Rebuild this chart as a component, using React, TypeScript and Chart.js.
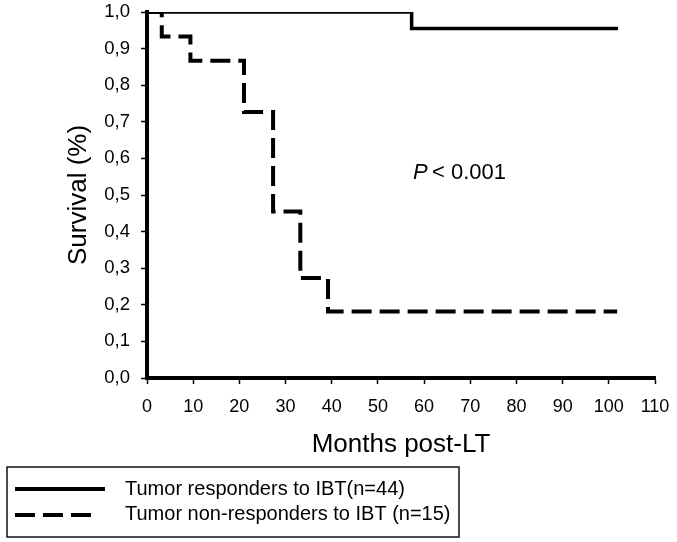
import React, { useEffect, useRef } from "react";
import { Chart, registerables } from "chart.js";

Chart.register(...registerables);

// Kaplan-Meier steps: [months, survival]
const respondersTimes = [0, 57.3, 102];
const respondersSurvival = [1.0, 0.955, 0.955];
const nonRespondersTimes = [0, 3.2, 9.4, 21, 27.3, 33.2, 39.2, 101.8];
const nonRespondersSurvival = [1.0, 0.933, 0.867, 0.727, 0.455, 0.273, 0.182, 0.182];

const seriesLabels = ["Tumor responders to IBT(n=44)", "Tumor non-responders to IBT (n=15)"];
const xTitle = "Months post-LT";
const yTitle = "Survival (%)";
const pText = "P";
const pRest = "< 0.001";

const FONT = "'Liberation Sans', Arial, sans-serif";

const toPoints = (xs: number[], ys: number[]) => xs.map((x, i) => ({ x, y: ys[i] }));

const overlayPlugin = {
  id: "overlay",
  afterDraw(chart: any) {
    const ctx = chart.ctx as CanvasRenderingContext2D;
    ctx.save();
    // P-value annotation
    ctx.fillStyle = "#000";
    ctx.textBaseline = "middle";
    ctx.textAlign = "left";
    ctx.font = `italic 22px ${FONT}`;
    ctx.fillText(pText, 413, 173);
    ctx.font = `22px ${FONT}`;
    ctx.fillText(pRest, 432, 173);

    // Legend box
    ctx.strokeStyle = "#111";
    ctx.lineWidth = 1.5;
    ctx.setLineDash([]);
    ctx.strokeRect(7, 467, 452, 70);

    // legend samples
    ctx.strokeStyle = "#000";
    ctx.lineWidth = 4;
    ctx.lineCap = "butt";
    ctx.beginPath();
    ctx.moveTo(15, 489);
    ctx.lineTo(105, 489);
    ctx.stroke();
    ctx.setLineDash([20, 8]);
    ctx.beginPath();
    ctx.moveTo(15, 515);
    ctx.lineTo(95, 515);
    ctx.stroke();
    ctx.setLineDash([]);

    ctx.font = `20px ${FONT}`;
    ctx.fillStyle = "#000";
    ctx.fillText(seriesLabels[0], 125, 489);
    ctx.fillText(seriesLabels[1], 125, 514);
    ctx.restore();
  },
};

const zeroPad = (scale: any) => {
  scale.paddingTop = 0;
  scale.paddingBottom = 0;
  scale.paddingLeft = 0;
  scale.paddingRight = 0;
};

export default function App() {
  const ref = useRef<HTMLCanvasElement | null>(null);

  useEffect(() => {
    if (!ref.current) return;
    const chart = new Chart(ref.current, {
      type: "line",
      data: {
        datasets: [
          {
            label: seriesLabels[0],
            data: toPoints(respondersTimes, respondersSurvival),
            borderColor: "#000",
            borderWidth: 3.5,
            stepped: "before",
            pointRadius: 0,
            fill: false,
          },
          {
            label: seriesLabels[1],
            data: toPoints(nonRespondersTimes, nonRespondersSurvival),
            borderColor: "#000",
            borderWidth: 4,
            borderDash: [20, 8],
            stepped: "before",
            pointRadius: 0,
            fill: false,
          },
        ],
      },
      options: {
        animation: false,
        responsive: false,
        devicePixelRatio: 1,
        layout: { padding: { top: 12, right: 22, left: 0, bottom: 81.4 } },
        plugins: {
          legend: { display: false },
          tooltip: { enabled: false },
          title: { display: false },
        },
        scales: {
          x: {
            type: "linear",
            min: 0,
            max: 110,
            grid: { drawOnChartArea: false, drawTicks: true, tickLength: 6, tickWidth: 1.5, tickColor: "#000" },
            border: { display: true, width: 4, color: "#000" },
            ticks: {
              stepSize: 10,
              color: "#000",
              padding: 12,
              maxRotation: 0,
              font: { family: FONT, size: 18 },
            },
            title: {
              display: true,
              text: xTitle,
              color: "#000",
              font: { family: FONT, size: 26 },
              padding: 0,
            },
            afterFit: (scale: any) => {
              scale.height = 82.6;
              zeroPad(scale);
            },
          },
          y: {
            type: "linear",
            min: 0,
            max: 1,
            grid: { drawOnChartArea: false, drawTicks: true, tickLength: 6, tickWidth: 1.5, tickColor: "#000" },
            border: { display: true, width: 4, color: "#000" },
            ticks: {
              stepSize: 0.1,
              color: "#000",
              padding: 11,
              font: { family: FONT, size: 18.5 },
              callback: (v: any) => Number(v).toFixed(1).replace(".", ","),
            },
            title: {
              display: true,
              text: yTitle,
              color: "#000",
              font: { family: FONT, size: 26 },
              padding: { top: 63.5, bottom: 0 },
            },
            afterFit: (scale: any) => {
              scale.width = 147;
              zeroPad(scale);
            },
          },
        },
      },
      plugins: [overlayPlugin],
    } as any);
    return () => chart.destroy();
  }, []);

  return (
    <div style={{ position: "absolute", left: 0, top: 0, width: 677, height: 542, background: "#fff" }}>
      <canvas ref={ref} width={677} height={542} style={{ display: "block", width: 677, height: 542 }} />
    </div>
  );
}
